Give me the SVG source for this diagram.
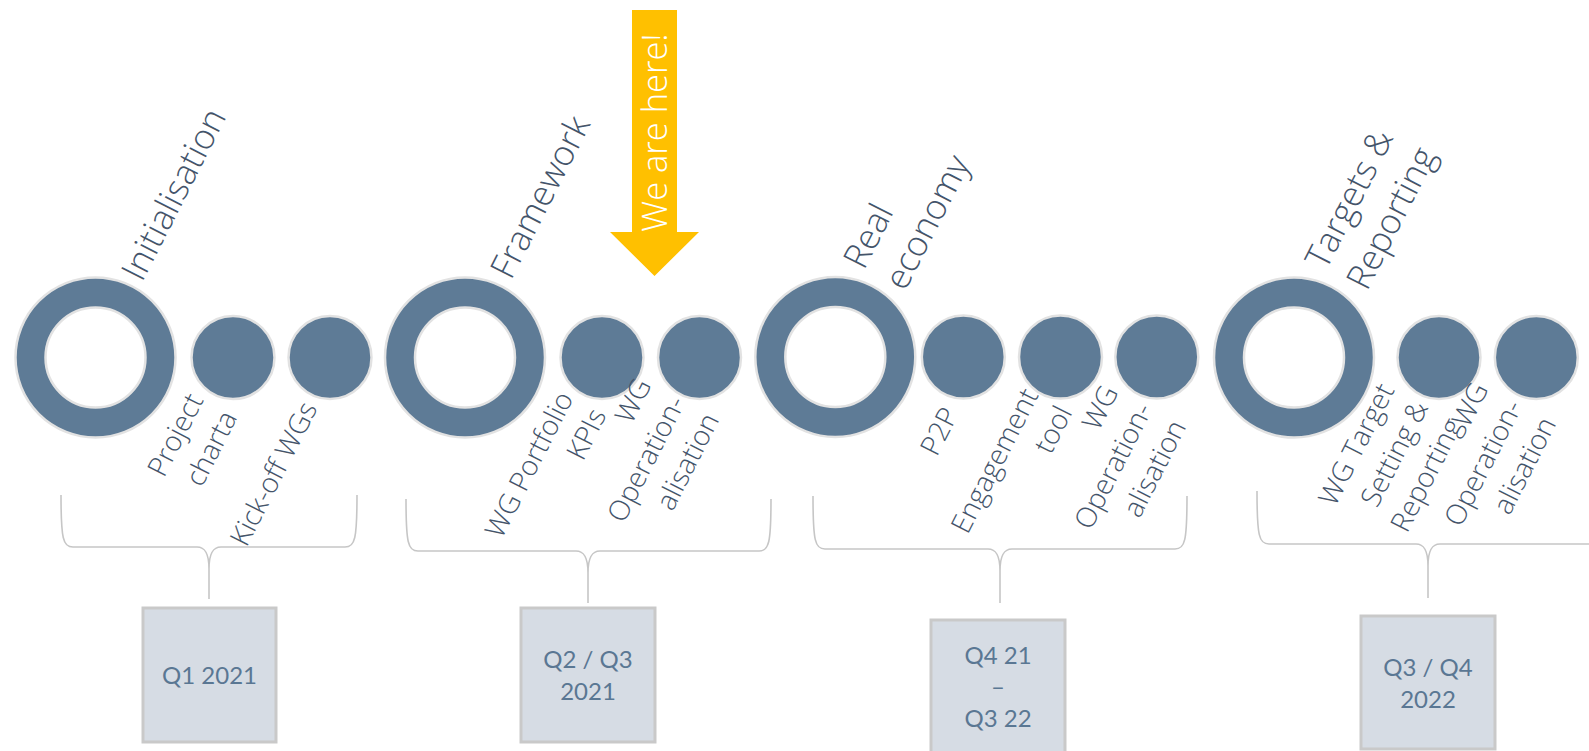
<svg xmlns="http://www.w3.org/2000/svg" width="1589" height="751" viewBox="0 0 1589 751">
<defs>
<style>
.ring{fill:#5E7B96;stroke:#E2E2E2;stroke-width:2.5}
.hole{fill:#FFFFFF;stroke:#E2E2E2;stroke-width:2.5}
.dot{fill:#5E7B96;stroke:#E2E2E2;stroke-width:2.5}
.top{font-family:"Open Sans","Liberation Sans",sans-serif;font-weight:350;font-size:35px;fill:#44546A}
.sub{font-family:"Open Sans","Liberation Sans",sans-serif;font-weight:350;font-size:28px;fill:#44546A;text-anchor:end}
.brace{fill:none;stroke:#C6C6C6;stroke-width:1.6}
.qbox{fill:#D6DCE4;stroke:#C9C9C9;stroke-width:3}
.qtxt{font-family:Lato,"Liberation Sans",sans-serif;font-size:24px;fill:#5A7793;text-anchor:middle}
.here{font-family:"Open Sans","Liberation Sans",sans-serif;font-weight:300;font-size:34.5px;fill:#FFFFFF;text-anchor:middle}
</style>
</defs>
<rect width="1589" height="751" fill="#FFFFFF"/>

<g id="connectors">
<path class="brace" d="M61,495 C61,539 63,547 73,547 L197,547 C205,547 209,553 209,569 L209,599 M209,569 C209,553 213,547 221,547 L345,547 C355,547 357,539 357,495"/>
<path class="brace" d="M406,499 C406,543 408,551 418,551 L576,551 C584,551 588,557 588,573 L588,603 M588,573 C588,557 592,551 600,551 L759,551 C769,551 771,543 771,499"/>
<path class="brace" d="M813,496 C813,541 815,549 825,549 L988,549 C996,549 1000,555 1000,571 L1000,603 M1000,571 C1000,555 1004,549 1012,549 L1175,549 C1185,549 1187,541 1187,496"/>
<path class="brace" d="M1257,491 C1257,536 1259,544 1269,544 L1416,544 C1424,544 1428,550 1428,566 L1428,598 M1428,566 C1428,550 1432,544 1440,544 L1600,544"/>
</g>

<g id="marker-here">
<polygon points="632,10 677,10 677,232 699,232 654.5,276 610,232 632,232" fill="#FFC000"/>
<text class="here" transform="translate(667,132.5) rotate(-90)">We are here!</text>
</g>

<g id="phase-initialisation">
<circle class="ring" cx="95.5" cy="357.5" r="80"/>
<circle class="hole" cx="95.5" cy="357.5" r="50"/>
<text class="top" transform="translate(142,283) rotate(-63)">Initialisation</text>
</g>
<g id="step-project-charta">
<circle class="dot" cx="233" cy="357.5" r="41.5"/>
<text class="sub" transform="translate(204,400) rotate(-63)"><tspan x="0" y="0">Project</tspan><tspan x="0" y="38">charta</tspan></text>
</g>
<g id="step-kickoff">
<circle class="dot" cx="330" cy="357.5" r="41.5"/>
<text class="sub" transform="translate(318,408) rotate(-63)">Kick-off WGs</text>
</g>

<g id="phase-framework">
<circle class="ring" cx="465" cy="357.5" r="80"/>
<circle class="hole" cx="465" cy="357.5" r="50"/>
<text class="top" transform="translate(511,281) rotate(-63)">Framework</text>
<text class="sub" transform="translate(574,398) rotate(-63)">WG Portfolio</text>
</g>
<g id="step-kpis">
<circle class="dot" cx="602" cy="357.5" r="41.5"/>
<text class="sub" transform="translate(607,415) rotate(-63)">KPIs</text>
</g>
<g id="step-wg-op-1">
<circle class="dot" cx="699.5" cy="357.5" r="41.5"/>
<text class="sub" transform="translate(652,385) rotate(-63)"><tspan x="0" y="0">WG</tspan><tspan x="0" y="38">Operation-</tspan><tspan x="0" y="76">alisation</tspan></text>
</g>

<g id="phase-real-economy">
<circle class="ring" cx="835.3" cy="357" r="80"/>
<circle class="hole" cx="835.3" cy="357" r="50"/>
<text class="top" transform="translate(864,271) rotate(-63)"><tspan x="0" y="0">Real</tspan><tspan x="0" y="46">economy</tspan></text>
</g>
<g id="step-p2p">
<circle class="dot" cx="963.3" cy="357" r="41.5"/>
<text class="sub" transform="translate(959,414) rotate(-63)">P2P</text>
</g>
<g id="step-engagement">
<circle class="dot" cx="1060.5" cy="357" r="41.5"/>
<text class="sub" transform="translate(1039,395) rotate(-63)"><tspan x="0" y="0">Engagement</tspan><tspan x="0" y="38">tool</tspan></text>
</g>
<g id="step-wg-op-2">
<circle class="dot" cx="1156.8" cy="357" r="41.5"/>
<text class="sub" transform="translate(1119,392) rotate(-63)"><tspan x="0" y="0">WG</tspan><tspan x="0" y="38">Operation-</tspan><tspan x="0" y="76">alisation</tspan></text>
</g>

<g id="phase-targets">
<circle class="ring" cx="1294" cy="357.5" r="80"/>
<circle class="hole" cx="1294" cy="357.5" r="50"/>
<text class="top" transform="translate(1326,271) rotate(-63)"><tspan x="0" y="0">Targets &amp;</tspan><tspan x="0" y="46">Reporting</tspan></text>
</g>
<g id="step-wg-target">
<circle class="dot" cx="1439" cy="357.5" r="41.5"/>
<text class="sub" transform="translate(1395,390) rotate(-63)"><tspan x="0" y="0">WG Target</tspan><tspan x="0" y="38">Setting &amp;</tspan><tspan x="0" y="76">Reporting</tspan></text>
</g>
<g id="step-wg-op-3">
<circle class="dot" cx="1536.3" cy="357.5" r="41.5"/>
<text class="sub" transform="translate(1489,389) rotate(-63)"><tspan x="0" y="0">WG</tspan><tspan x="0" y="38">Operation-</tspan><tspan x="0" y="76">alisation</tspan></text>
</g>

<g id="period-q1-2021">
<rect class="qbox" x="143" y="608" width="133" height="134"/>
<text class="qtxt" x="209.5" y="683.5">Q1 2021</text>
</g>
<g id="period-q2-q3-2021">
<rect class="qbox" x="521" y="608" width="134" height="134"/>
<text class="qtxt" x="588" y="668">Q2 / Q3</text>
<text class="qtxt" x="588" y="699.5">2021</text>
</g>
<g id="period-q4-21-q3-22">
<rect class="qbox" x="931" y="620" width="134" height="140"/>
<text class="qtxt" x="998" y="663.5">Q4 21</text>
<text class="qtxt" x="998" y="695">–</text>
<text class="qtxt" x="998" y="727">Q3 22</text>
</g>
<g id="period-q3-q4-2022">
<rect class="qbox" x="1361" y="616" width="134" height="133"/>
<text class="qtxt" x="1428" y="676">Q3 / Q4</text>
<text class="qtxt" x="1428" y="708">2022</text>
</g>
</svg>
